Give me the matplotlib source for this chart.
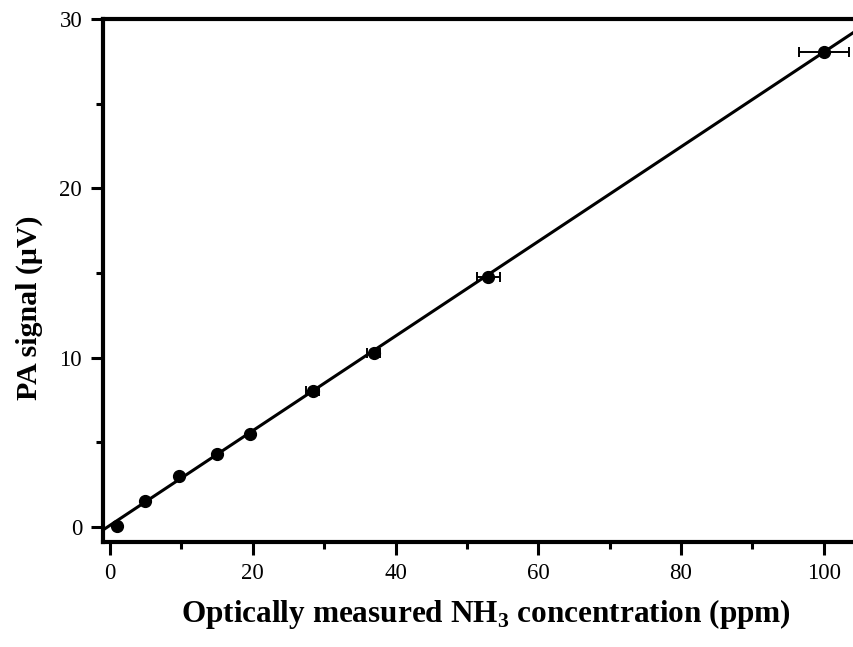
import numpy as np
import matplotlib
matplotlib.use("Agg")
import matplotlib.pyplot as plt
from matplotlib.ticker import MultipleLocator

plt.rcParams['font.family'] = ['Liberation Serif', 'DejaVu Serif']
plt.rcParams['mathtext.fontset'] = 'custom'
plt.rcParams['mathtext.rm'] = 'Liberation Serif'
plt.rcParams['mathtext.bf'] = 'Liberation Serif:bold'

# measured data
conc_ppm   = [0.93, 4.91, 9.72, 14.96, 19.54, 28.37, 36.93, 52.97, 100.05]
pa_signal  = [0.08, 1.54, 3.03, 4.29, 5.49, 8.05, 10.26, 14.75, 28.04]
conc_err   = [0.0, 0.0, 0.0, 0.0, 0.0, 0.93, 0.93, 1.63, 3.55]

# linear fit
fit_slope     = 0.2794
fit_intercept = 0.10

x_lim = (-1.0, 105.5)
y_lim = (-0.89, 30.0)

fig = plt.figure(figsize=(8.54, 6.47), dpi=100)
ax = fig.add_axes([103 / 854, 1 - 542 / 647, (854 - 103 + 9) / 854, (542 - 19) / 647])

xs = np.array(x_lim)
ax.plot(xs, fit_slope * xs + fit_intercept, color='black', lw=2.2, zorder=2)

ax.errorbar(conc_ppm, pa_signal, xerr=conc_err, fmt='o', color='black',
            ms=8.5, elinewidth=1.4, capsize=3.5, capthick=1.4, zorder=3)

ax.set_xlim(*x_lim)
ax.set_ylim(*y_lim)

ax.xaxis.set_major_locator(MultipleLocator(20))
ax.xaxis.set_minor_locator(MultipleLocator(10))
ax.yaxis.set_major_locator(MultipleLocator(10))
ax.yaxis.set_minor_locator(MultipleLocator(5))

for s in ax.spines.values():
    s.set_linewidth(3.0)

ax.tick_params(which='major', direction='out', length=9, width=2.2,
               labelsize=16.5, pad=6)
ax.tick_params(which='minor', direction='out', length=5, width=2.2)

ax.set_xlabel(r'Optically measured NH$_{\mathbf{3}}$ concentration (ppm)',
              fontsize=22.5, fontweight='bold')
ax.set_ylabel('PA signal (\u03bcV)', fontsize=21.5, fontweight='bold')
ax.xaxis.set_label_coords((486 - 103) / 760, -(597 - 542) / 523)
ax.yaxis.set_label_coords(-(103 - 43) / 760, (542 - 308) / 523)

fig.savefig('out.png', dpi=100)
